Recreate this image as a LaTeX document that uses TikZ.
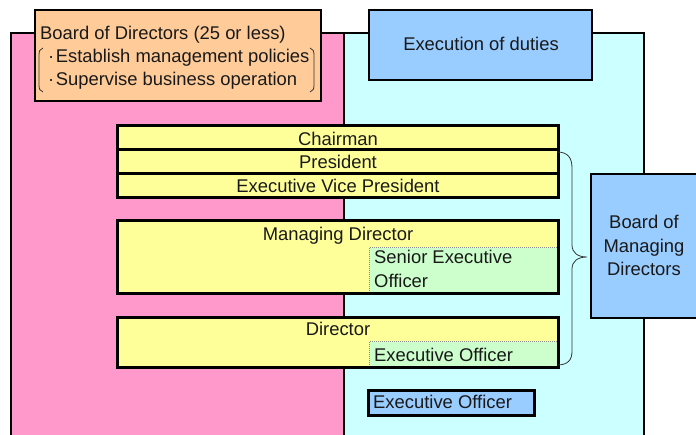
\documentclass[tikz,border=0pt]{standalone}
\usepackage{fontspec}
\setmainfont{Liberation Sans}
\definecolor{panelpink}{HTML}{FF99CC}
\definecolor{panelcyan}{HTML}{CCFFFF}
\definecolor{boardorange}{HTML}{FFCC99}
\definecolor{dutyblue}{HTML}{99CCFF}
\definecolor{rowyellow}{HTML}{FFFF99}
\definecolor{officergreen}{HTML}{CCFFCC}
\begin{document}
\begin{tikzpicture}[x=1pt,y=-1pt,
  lbl/.style={inner sep=0pt, font=\fontsize{18.4}{22}\selectfont, text=black!90},
  box/.style={rectangle, inner sep=0pt, outer sep=0pt, anchor=north west},
  panel/.style={box, draw=black, line width=2.3pt},
  rowbox/.style={box, draw=black, line width=3pt, fill=rowyellow},
  officerbox/.style={box, fill=officergreen, draw=black!45, densely dotted, line width=1pt},
  bracket/.style={draw=black!80, line width=0.8pt}]
\clip (0,0) rectangle (696,435);

% two background panels
\node[panel, fill=panelpink, minimum width=333pt, minimum height=410pt] (sup) at (11,33) {};
\node[panel, fill=panelcyan, minimum width=300pt, minimum height=410pt] (exe) at (344,33) {};

% board of directors
\node[panel, fill=boardorange, minimum width=286pt, minimum height=91pt] (bod) at (35,10) {};
\node[lbl, anchor=base west] (bodt) at (40,40) {Board of Directors (25 or less)};
\node[lbl, anchor=base west] (bodl1) at (48,63) {·\kern1.5pt Establish management policies};
\node[lbl, anchor=base west] (bodl2) at (48,86) {·\kern1.5pt Supervise business operation};
\draw[bracket] (43,48) .. controls (40,49) and (39,51) .. (39,55) -- (39,85) .. controls (39,89) and (40,91) .. (43,92);
\draw[bracket] (310,48) .. controls (313,49) and (314,51) .. (314,55) -- (314,85) .. controls (314,89) and (313,91) .. (310,92);

% execution of duties
\node[panel, fill=dutyblue, minimum width=223pt, minimum height=70pt] (eod) at (369,10) {};
\node[lbl, anchor=base] (eodt) at (481,51) {Execution of duties};

% top executives
\node[rowbox, minimum width=441pt, minimum height=24pt] (chair) at (117,126) {};
\node[rowbox, minimum width=441pt, minimum height=24pt] (pres) at (117,150) {};
\node[rowbox, minimum width=441pt, minimum height=24pt] (evp) at (117,174) {};
\node[lbl, anchor=base] (chairt) at (338,146) {Chairman};
\node[lbl, anchor=base] (prest) at (338,169) {President};
\node[lbl, anchor=base] (evpt) at (338,193) {Executive Vice President};

% managing director
\node[rowbox, minimum width=441pt, minimum height=73pt] (md) at (117,221) {};
\node[officerbox, minimum width=189pt, minimum height=46pt] (seo) at (369,248) {};
\draw[line width=3pt] (md.north west) rectangle (md.south east);
\node[lbl, anchor=base] (mdt) at (338,241) {Managing Director};
\node[lbl, anchor=base west] (seot1) at (374,264) {Senior Executive};
\node[lbl, anchor=base west] (seot2) at (374,288) {Officer};

% director
\node[rowbox, minimum width=441pt, minimum height=50pt] (dir) at (117,318) {};
\node[officerbox, minimum width=189pt, minimum height=26pt] (eo) at (369,342) {};
\draw[line width=3pt] (dir.north west) rectangle (dir.south east);
\node[lbl, anchor=base] (dirt) at (338,336) {Director};
\node[lbl, anchor=base west] (eot) at (374,362) {Executive Officer};

% brace grouping the managing board
\coordinate (btop) at (557,152);
\coordinate (bbot) at (557,365);
\coordinate (btip) at (587,257);
\draw[bracket] (btop) .. controls (568,152) and (572,158) .. (572,168) -- (572,245)
  .. controls (572,253) and (578,257) .. (btip)
  .. controls (578,257) and (572,261) .. (572,269) -- (572,351)
  .. controls (572,360) and (568,365) .. (bbot);

% board of managing directors
\node[panel, fill=dutyblue, minimum width=110pt, minimum height=144pt] (bomd) at (591,174) {};
\node[lbl, anchor=base] (bomd1) at (644,229) {Board of};
\node[lbl, anchor=base] (bomd2) at (644,253) {Managing};
\node[lbl, anchor=base] (bomd3) at (644,276) {Directors};

% executive officer outside the board
\node[box, draw=black, line width=3pt, fill=dutyblue, minimum width=166pt, minimum height=24pt] (xo) at (368,391) {};
\node[lbl, anchor=base west] (xot) at (373,409) {Executive Officer};
\end{tikzpicture}
\end{document}
